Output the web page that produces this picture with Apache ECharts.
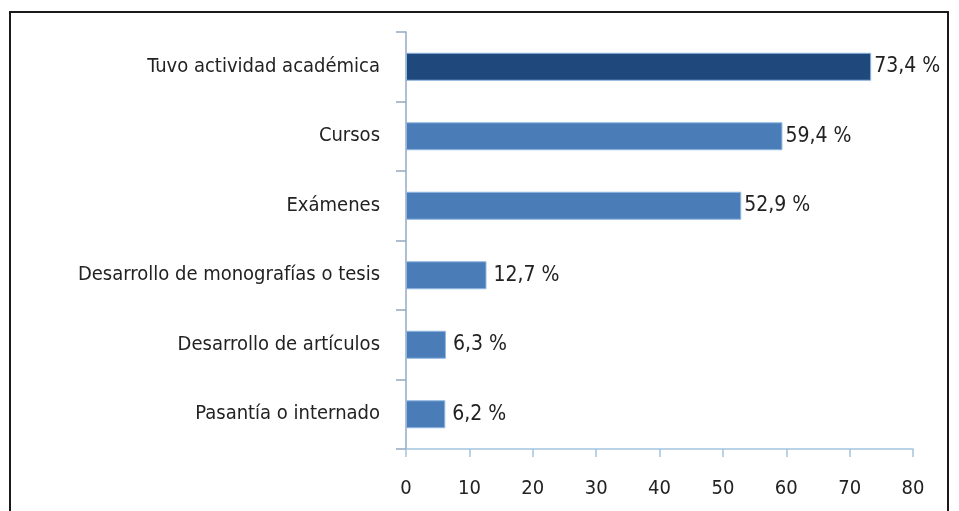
<!DOCTYPE html>
<html>
<head>
<meta charset="utf-8">
<script src="https://cdn.jsdelivr.net/npm/echarts@6/dist/echarts.min.js"></script>
<style>
  html, body { margin: 0; padding: 0; background: #fff; }
  #chart { width: 959px; height: 511px; }
</style>
</head>
<body>
<div id="chart"></div>
<script>
// datos
const categorias = [
    'Tuvo actividad académica',
    'Cursos',
    'Exámenes',
    'Desarrollo de monografías o tesis',
    'Desarrollo de artículos',
    'Pasantía o internado'
];
const porcentajes = [73.4, 59.4, 52.9, 12.7, 6.3, 6.2];
const coloresBarra = ['#1f497d', '#4a7db8', '#4a7db8', '#4a7db8', '#4a7db8', '#4a7db8'];
const ticksX = [0, 10, 20, 30, 40, 50, 60, 70, 80];

const fuente = '"Liberation Sans Narrow", "DejaVu Sans Condensed", sans-serif';
const colorEjeY = '#94a9c0';
const colorEjeX = '#a3c3de';

var chart = echarts.init(document.getElementById('chart'));
var option = {
    animation: false,
    backgroundColor: '#fff',
    graphic: [{
        type: 'rect',
        shape: { x: 10, y: 12, width: 938, height: 530 },
        style: { fill: 'none', stroke: '#1a1a1a', lineWidth: 2 }
    }],
    grid: { left: 406, right: 46, top: 32, bottom: 62 },
    xAxis: {
        type: 'value',
        min: ticksX[0],
        max: ticksX[ticksX.length - 1],
        interval: 10,
        axisLine: { show: true, lineStyle: { color: colorEjeX, width: 1.5 } },
        axisTick: { show: true, length: 8, lineStyle: { color: colorEjeX, width: 1.5 } },
        splitLine: { show: false },
        axisLabel: { color: '#222', fontSize: 20, fontFamily: fuente, margin: 30 }
    },
    yAxis: {
        type: 'category',
        inverse: true,
        data: categorias,
        axisLine: { show: true, lineStyle: { color: colorEjeY, width: 1.5 } },
        axisTick: { show: true, length: 10, lineStyle: { color: colorEjeY, width: 1.5 } },
        axisLabel: { color: '#222', fontSize: 20, fontFamily: fuente, margin: 26 }
    },
    series: [{
        type: 'bar',
        barWidth: 28,
        data: porcentajes.map(function (v, i) {
            return {
                value: v,
                itemStyle: { color: coloresBarra[i], borderColor: '#8fb6e0', borderWidth: 1 },
                label: { distance: i < 3 ? 3 : 7 }
            };
        }),
        label: {
            show: true,
            position: 'right',
            color: '#222',
            fontSize: 21,
            fontFamily: fuente,
            formatter: function (p) {
                return p.value.toFixed(1).replace('.', ',') + ' %';
            }
        }
    }]
};
chart.setOption(option);
</script>
</body>
</html>
